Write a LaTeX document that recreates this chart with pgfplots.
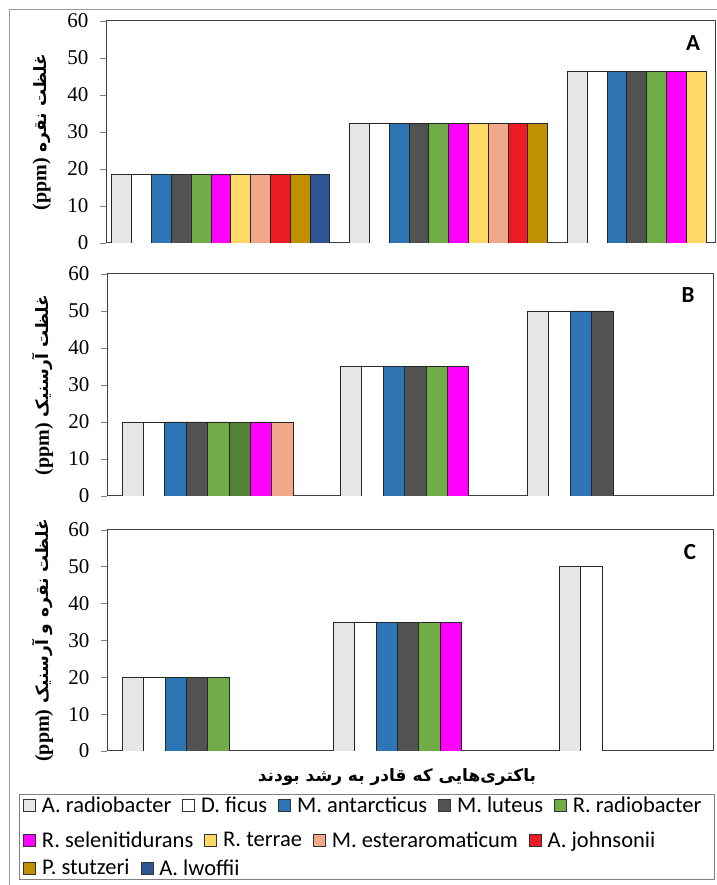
\documentclass[border=0pt]{standalone}
\usepackage{fontspec}
\usepackage{pgfplots}
\pgfplotsset{compat=1.18}
\setmainfont{Liberation Serif}
\newfontfamily\fa[Script=Arabic]{DejaVu Sans}
\newfontfamily\carlito{Carlito}
\TeXXeTstate=1

\definecolor{c1}{HTML}{E6E6E6}
\definecolor{c2}{HTML}{FFFFFF}
\definecolor{c3}{HTML}{2E75B6}
\definecolor{c4}{HTML}{525252}
\definecolor{c5}{HTML}{70AD47}
\definecolor{c5b}{HTML}{548235}
\definecolor{c6}{HTML}{FF00FF}
\definecolor{c7}{HTML}{FFD966}
\definecolor{c8}{HTML}{F0A888}
\definecolor{c9}{HTML}{ED1C24}
\definecolor{c10}{HTML}{BF9000}
\definecolor{c11}{HTML}{2F5597}

\newcommand{\ppm}{\beginL{\rmfamily\bfseries\fontsize{20}{22}\selectfont(ppm)}\endL}

\pgfplotsset{
  panel/.style={
    scale only axis, ymin=0, ymax=60, ytick={0,10,...,60},
    xtick=\empty, ybar,
    axis line style={draw=black!75, line width=1pt},
    tick align=outside, ytick pos=left, major tick length=6pt,
    ytick style={draw=black!50, line width=0.8pt},
    /pgf/number format/assume math mode=true,
    yticklabel style={font=\fontsize{21}{22}\selectfont, xshift=-8pt},
    ylabel style={at={(axis description cs:-0.106,0.5)}, anchor=center,
      font=\fontsize{17}{20}\selectfont},
  },
  b/.style={draw=black!85, line width=0.9pt, fill=#1, bar shift=0pt, bar width=1},
  lrow/.style={hide axis, scale only axis, width=10pt, height=10pt,
    xmin=0, xmax=1, ymin=0, ymax=1, anchor=west,
    legend columns=-1,
    legend image code/.code={\draw[##1, draw=black!80, line width=0.8pt] (0pt,-6pt) rectangle (12pt,6pt);},
    legend style={at={(0,0.5)}, anchor=west, draw=none, fill=none, inner sep=0pt,
      font=\fontsize{22.5}{24}\selectfont\carlito,
      /tikz/every odd column/.append style={column sep=4pt},
      /tikz/every even column/.append style={column sep=9pt}},
  },
}

\begin{document}
\begin{tikzpicture}
\useasboundingbox (0,0) rectangle (716pt,885pt);
\draw[black!40, line width=0.8pt] (9pt,-5pt) -- (9pt,876pt) -- (730pt,876pt);

% Panel A
\begin{axis}[panel, at={(106pt,642pt)}, anchor=south west, width=609pt, height=222pt,
  xmin=-0.3, xmax=30.45,
  ylabel={\fa\bfseries\beginR غلظت نقره \ppm\endR}]
\addplot[b=c1] coordinates {(0.5,18.5) (12.5,32.4) (23.5,46.3)};
\addplot[b=c2] coordinates {(1.5,18.5) (13.5,32.4) (24.5,46.3)};
\addplot[b=c3] coordinates {(2.5,18.5) (14.5,32.4) (25.5,46.3)};
\addplot[b=c4] coordinates {(3.5,18.5) (15.5,32.4) (26.5,46.3)};
\addplot[b=c5] coordinates {(4.5,18.5) (16.5,32.4) (27.5,46.3)};
\addplot[b=c6] coordinates {(5.5,18.5) (17.5,32.4) (28.5,46.3)};
\addplot[b=c7] coordinates {(6.5,18.5) (18.5,32.4) (29.5,46.3)};
\addplot[b=c8] coordinates {(7.5,18.5) (19.5,32.4)};
\addplot[b=c9] coordinates {(8.5,18.5) (20.5,32.4)};
\addplot[b=c10] coordinates {(9.5,18.5) (21.5,32.4)};
\addplot[b=c11] coordinates {(10.5,18.5)};
\node[font=\fontsize{23}{26}\selectfont\carlito\bfseries] at (rel axis cs:0.964,0.9) {A};
\end{axis}

% Panel B
\begin{axis}[panel, at={(107pt,389pt)}, anchor=south west, width=606pt, height=222pt,
  xmin=-0.7, xmax=27.6,
  ylabel={\fa\bfseries\beginR غلظت آرسنیک \ppm\endR}]
\addplot[b=c1] coordinates {(0.5,20) (10.7,35) (19.43,50)};
\addplot[b=c2] coordinates {(1.5,20) (11.7,35) (20.43,50)};
\addplot[b=c3] coordinates {(2.5,20) (12.7,35) (21.43,50)};
\addplot[b=c4] coordinates {(3.5,20) (13.7,35) (22.43,50)};
\addplot[b=c5] coordinates {(4.5,20) (14.7,35)};
\addplot[b=c5b] coordinates {(5.5,20)};
\addplot[b=c6] coordinates {(6.5,20) (15.7,35)};
\addplot[b=c8] coordinates {(7.5,20)};
\node[font=\fontsize{23}{26}\selectfont\carlito\bfseries] at (rel axis cs:0.959,0.905) {B};
\end{axis}

% Panel C
\begin{axis}[panel, at={(107pt,134pt)}, anchor=south west, width=606pt, height=221pt,
  xmin=-0.71, xmax=27.6,
  ylabel={\fa\bfseries\beginR غلظت نقره و آرسنیک \ppm\endR}]
\addplot[b=c1] coordinates {(0.5,20) (10.36,35) (20.92,50)};
\addplot[b=c2] coordinates {(1.5,20) (11.36,35) (21.92,50)};
\addplot[b=c3] coordinates {(2.5,20) (12.36,35)};
\addplot[b=c4] coordinates {(3.5,20) (13.36,35)};
\addplot[b=c5] coordinates {(4.5,20) (14.36,35)};
\addplot[b=c6] coordinates {(15.36,35)};
\node[font=\fontsize{23}{26}\selectfont\carlito\bfseries] at (rel axis cs:0.962,0.9) {C};
\end{axis}

% x title
\node[font=\fontsize{17}{20}\selectfont\fa\bfseries] at (397pt,108pt)
  {\beginR باکتری‌هایی که قادر به رشد بودند\endR};

% legend
\draw[black!50, line width=0.8pt] (19pt,6pt) rectangle (714pt,91pt);
\begin{axis}[lrow, at={(23pt,80pt)}]
\addlegendimage{fill=c1}\addlegendentry{A. radiobacter}
\addlegendimage{fill=c2}\addlegendentry{D. ficus}
\addlegendimage{fill=c3}\addlegendentry{M. antarcticus}
\addlegendimage{fill=c4}\addlegendentry{M. luteus}
\addlegendimage{fill=c5}\addlegendentry{R. radiobacter}
\end{axis}
\begin{axis}[lrow, at={(23pt,45pt)}]
\addlegendimage{fill=c6}\addlegendentry{R. selenitidurans}
\addlegendimage{fill=c7}\addlegendentry{R. terrae}
\addlegendimage{fill=c8}\addlegendentry{M. esteraromaticum}
\addlegendimage{fill=c9}\addlegendentry{A. johnsonii}
\end{axis}
\begin{axis}[lrow, at={(23pt,17pt)}]
\addlegendimage{fill=c10}\addlegendentry{P. stutzeri}
\addlegendimage{fill=c11}\addlegendentry{A. lwoffii}
\end{axis}
\end{tikzpicture}
\end{document}
